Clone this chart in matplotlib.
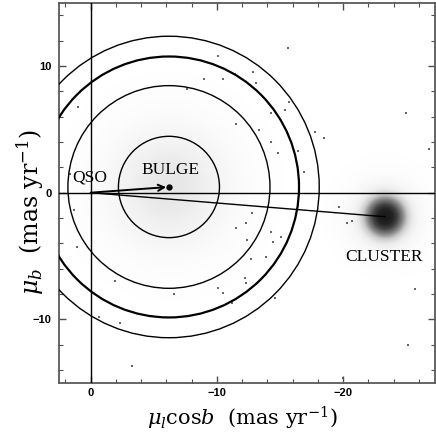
import numpy as np
import matplotlib
matplotlib.use('Agg')
import matplotlib.pyplot as plt
from matplotlib.patches import Circle

# ---------------- data ----------------
qso = (0.0, 0.0)
bulge_center = (-6.2, 0.45)
cluster_center = (-23.3, -1.9)

circle_radii = [4.0, 8.0, 10.3, 11.9]
circle_widths = [1.0, 1.0, 1.6, 1.0]

# radial darkness profiles of the star clouds (0 = white, 1 = black)
bulge_profile_r = [0, 2, 3, 4, 5, 6, 7, 8, 9, 11]
bulge_profile_d = [0.19, 0.155, 0.12, 0.085, 0.055, 0.033, 0.018, 0.009, 0.004, 0.0]
cluster_profile_r = [0, 0.6, 1.0, 1.4, 1.8, 2.2, 2.7, 3.5, 4.5, 5.5]
cluster_profile_d = [0.92, 0.88, 0.78, 0.55, 0.3, 0.15, 0.07, 0.025, 0.008, 0.0]

# isolated field stars
field_x = [-12.83, -13.07, -15.68, -15.36, -14.25, -17.73, -18.44, -25.0, -26.8, -11.49,
           -13.3, -14.25, -14.8, -16.4, -16.9, -12.75, -12.3, -11.5, -14.3, -15.1,
           -14.4, -12.4, -12.7, -13.9, -12.2, -12.3, -14.6, -11.2, -20.0, -19.7,
           -20.3, -20.7, -1.9, -6.6, -10.1, -10.5, -0.7, -2.3, -3.3, -25.7,
           -25.1, -15.6, -10.1, -9.0, -10.5, -11.4, -7.6, 1.0, 1.3, 1.1, 1.6]
field_y = [9.54, 8.67, 7.17, 6.54, 6.30, 4.80, 4.32, 6.30, 3.46, 5.43,
           4.96, 4.0, 3.14, 3.30, 1.63, -1.6, -2.4, -2.8, -3.1, -3.5,
           -3.9, -3.7, -5.2, -5.1, -6.7, -7.1, -8.3, -8.7, -14.6, -1.1,
           -2.4, -2.2, -7.0, -8.0, -7.5, -7.9, -9.8, -10.3, -13.7, -7.6,
           -12.0, 11.4, 10.8, 9.0, 9.0, 9.4, 8.2, 6.8, -1.4, -4.3, 1.5]

labels = ["QSO", "BULGE", "CLUSTER"]
label_x = [0.1, -6.3, -23.2]
label_y = [1.2, 1.8, -5.1]

x_major = [0, -10, -20]
y_major = [-10, 0, 10]
xlim = (2.53, -27.3)
ylim = (-15, 15)

# ---------------- figure ----------------
plt.rcParams['font.family'] = ['Liberation Serif', 'DejaVu Serif']
plt.rcParams['mathtext.fontset'] = 'dejavuserif'

fig = plt.figure(figsize=(4.36, 4.37), dpi=100)
ax = fig.add_axes([0.1346, 0.1243, 0.8641, 0.8696])

# density rendering of the star clouds
gx = np.linspace(-28, 3, 621)
gy = np.linspace(-15, 15, 601)
GX, GY = np.meshgrid(gx, gy)
rb = np.hypot(GX - bulge_center[0], GY - bulge_center[1])
rc = np.hypot(GX - cluster_center[0], GY - cluster_center[1])
dens = np.interp(rb, bulge_profile_r, bulge_profile_d) + \
       np.interp(rc, cluster_profile_r, cluster_profile_d)
ax.imshow(np.clip(dens, 0, 1), cmap='Greys', vmin=0, vmax=1, origin='lower',
          extent=(gx[0], gx[-1], gy[0], gy[-1]), aspect='auto',
          interpolation='bilinear', zorder=0)

ax.scatter(field_x, field_y, s=1.2, marker='s', color='0.4', linewidths=0, zorder=1)

for r, w in zip(circle_radii, circle_widths):
    ax.add_patch(Circle(bulge_center, r, fill=False, lw=w, color='black', zorder=3))

ax.axvline(qso[0], color='black', lw=1.0, zorder=3)
ax.axhline(qso[1], color='black', lw=1.0, zorder=3)
ax.plot([qso[0], cluster_center[0]], [qso[1], cluster_center[1]], color='black', lw=1.0, zorder=3)
ax.annotate('', xy=bulge_center, xytext=qso,
            arrowprops=dict(arrowstyle='->', lw=1.4, color='black', shrinkA=0, shrinkB=2,
                            mutation_scale=11), zorder=4)
ax.plot([bulge_center[0]], [bulge_center[1]], 'o', color='black', ms=3.5, zorder=4)

for t, x, y in zip(labels, label_x, label_y):
    ax.text(x, y, t, fontsize=12.5, ha='center', va='center', color='black', zorder=5)

ax.set_xlim(*xlim)
ax.set_ylim(*ylim)
ax.set_xticks(x_major)
ax.set_yticks(y_major)
ax.set_xticks(np.arange(2, -28, -2), minor=True)
ax.set_yticks(np.arange(-14, 16, 2), minor=True)
ax.tick_params(which='both', direction='in', top=True, right=True, color='0.3')
ax.tick_params(which='major', length=5, width=1.0)
ax.tick_params(which='minor', length=2.6, width=0.8)
ax.tick_params(axis='x', pad=4)
ax.tick_params(axis='y', pad=5)
for lab in ax.get_xticklabels() + ax.get_yticklabels():
    lab.set_family(['Liberation Sans', 'DejaVu Sans'])
    lab.set_fontweight('bold')
    lab.set_fontsize(8)
for sp in ax.spines.values():
    sp.set_color('0.35')
    sp.set_linewidth(1.3)

fig.text(0.5567, 0.0417, r'$\mu_l$cos$b$  (mas yr$^{-1}$)', fontsize=15,
         ha='center', va='center', family='DejaVu Serif')
fig.text(0.070, 0.515, r'$\mu_b$  (mas yr$^{-1}$)', fontsize=17,
         ha='center', va='center', rotation=90, family='DejaVu Serif')

fig.savefig('out.png', dpi=100)
